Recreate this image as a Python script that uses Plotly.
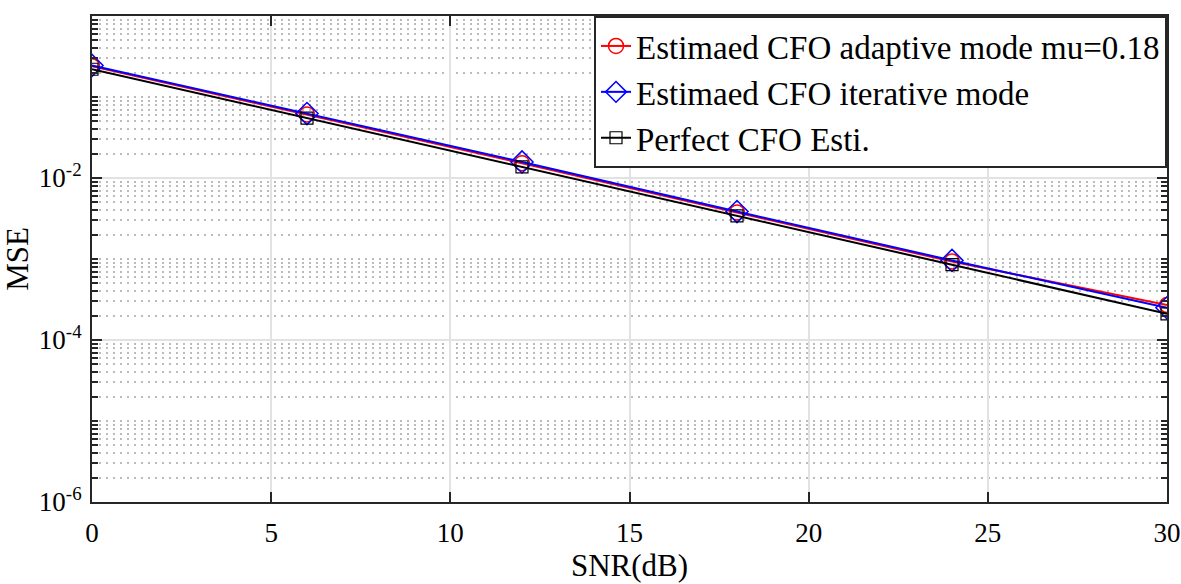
import plotly.graph_objects as go

snr = [0, 6, 12, 18, 24, 30]
mse_adaptive = [0.240, 0.0610, 0.0152, 0.00375, 0.00093, 0.00027]
mse_iterative = [0.245, 0.0625, 0.0158, 0.00385, 0.00096, 0.00025]
mse_perfect = [0.220, 0.0550, 0.0137, 0.00340, 0.00085, 0.00021]

names = ["Estimaed CFO adaptive mode mu=0.18", "Estimaed CFO iterative mode", "Perfect CFO Esti."]
x_ticks = [0, 5, 10, 15, 20, 25, 30]
y_major = [1e-6, 1e-4, 1e-2, 1e0]
y_major_text = ["10<sup>-6</sup>", "10<sup>-4</sup>", "10<sup>-2</sup>", "10<sup>0</sup>"]

y_minor = []
for e in range(-6, 0):
    for k in range(1, 10):
        v = k * 10.0 ** e
        if not (k == 1 and e % 2 == 0):
            y_minor.append(v)

FONT = "Liberation Serif, Times New Roman, serif"

fig = go.Figure()
fig.add_trace(go.Scatter(x=snr, y=mse_adaptive, name=names[0], mode="lines+markers",
                         line=dict(color="#ff0000", width=2),
                         marker=dict(symbol="circle-open", size=15, color="#ff0000", line=dict(width=1.5))))
fig.add_trace(go.Scatter(x=snr, y=mse_iterative, name=names[1], mode="lines+markers",
                         line=dict(color="#0000ff", width=2),
                         marker=dict(symbol="diamond-open", size=17, color="#0000ff", line=dict(width=1.5))))
fig.add_trace(go.Scatter(x=snr, y=mse_perfect, name=names[2], mode="lines+markers",
                         line=dict(color="#000000", width=2),
                         marker=dict(symbol="square-open", size=12, color="#000000", line=dict(width=1.2))))

fig.update_layout(
    width=1181, height=584,
    margin=dict(l=92, r=14, t=16, b=82, autoexpand=False),
    paper_bgcolor="white", plot_bgcolor="white",
    font=dict(family=FONT, size=27, color="black"),
    showlegend=True,
    legend=dict(x=1, y=1, xanchor="right", yanchor="top",
                bgcolor="white", bordercolor="#262626", borderwidth=2,
                font=dict(family=FONT, size=33, color="black"),
                tracegroupgap=0, itemwidth=30),
)
fig.update_xaxes(
    range=[0, 30], tickmode="array", tickvals=x_ticks,
    ticks="inside", ticklen=10, tickwidth=2, tickcolor="#262626",
    showline=True, linecolor="#262626", linewidth=2, mirror="ticks",
    showgrid=True, gridcolor="#e2e2e2", gridwidth=2,
    zeroline=False, automargin=False, ticklabelstandoff=6,
    tickfont=dict(family=FONT, size=27),
    title=dict(text="SNR(dB)", font=dict(family=FONT, size=31), standoff=3),
)
fig.update_yaxes(
    type="log", range=[-6, 0], tickmode="array", tickvals=y_major, ticktext=y_major_text,
    ticks="inside", ticklen=10, tickwidth=2, tickcolor="#262626",
    showline=True, linecolor="#262626", linewidth=2, mirror="ticks",
    showgrid=True, gridcolor="#e2e2e2", gridwidth=2,
    zeroline=False, automargin=False, ticklabelstandoff=3,
    tickfont=dict(family=FONT, size=27),
    title=dict(text="MSE", font=dict(family=FONT, size=31), standoff=6),
    minor=dict(tickmode="array", tickvals=y_minor, ticks="inside", ticklen=6, tickwidth=2,
               tickcolor="#262626", showgrid=True, gridcolor="#bbbbbb", griddash="2px,5px", gridwidth=2),
)

fig.write_html("out.html", config={"displayModeBar": False},
               post_script="document.body.style.margin='0';")
